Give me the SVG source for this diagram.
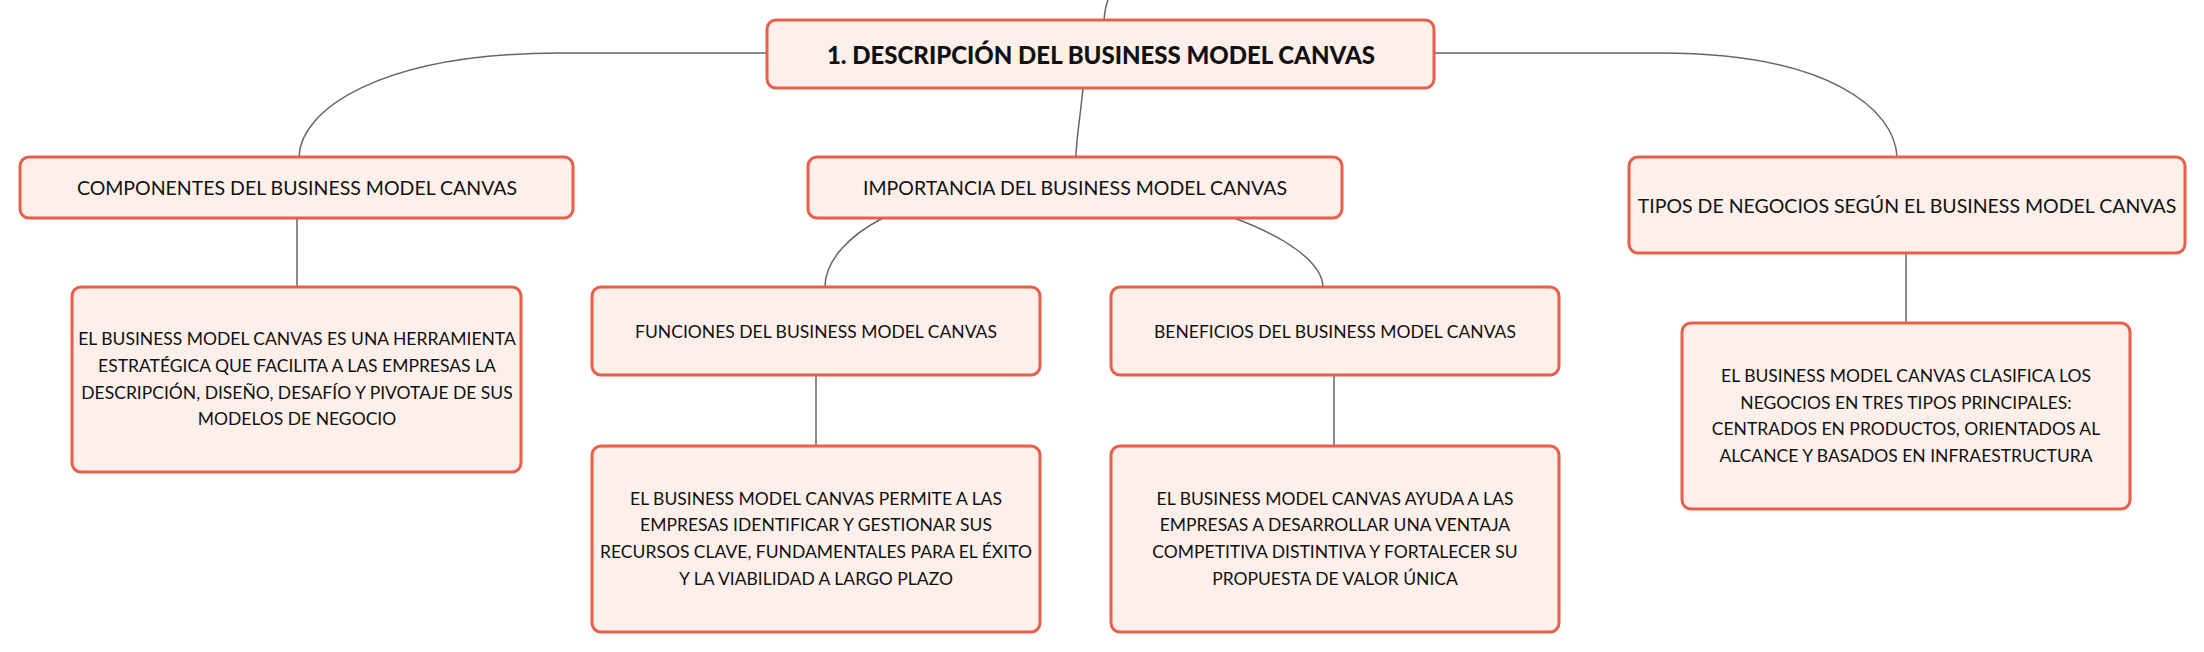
<svg xmlns="http://www.w3.org/2000/svg" width="2204" height="652" viewBox="0 0 2204 652">
<style>
.box{fill:#fdefea;stroke:#e8604b;stroke-width:3}
.t{font-family:Lato,"Noto Sans",sans-serif;fill:#111;text-anchor:middle;dominant-baseline:central}
.t0{font-size:24px;font-weight:900}
.t1{font-size:19.5px}
.t2{font-size:17.5px}
.c{fill:none;stroke:#666;stroke-width:1.5}
</style>
<rect width="2204" height="652" fill="#ffffff"/>
<g id="connectors">
<path class="c" d="M1104,20 Q1105,8 1108,0"/>
<path class="c" d="M1083,88 C1080,120 1076,140 1076,157"/>
<path class="c" d="M767,53 L560,53 C380,53 300,110 299,157"/>
<path class="c" d="M1434,53 L1660,53 C1830,53 1895,110 1897,157"/>
<path class="c" d="M297,218 V287"/>
<path class="c" d="M883,218 C850,235 825,260 825,287"/>
<path class="c" d="M1234,218 C1280,235 1322,260 1323,287"/>
<path class="c" d="M816,375 V446"/>
<path class="c" d="M1334,375 V446"/>
<path class="c" d="M1906,253 V323"/>
</g>
<g id="root">
<rect class="box" x="767" y="20" width="667" height="68" rx="9"/>
<text class="t t0" x="1101" y="54">1. DESCRIPCIÓN DEL BUSINESS MODEL CANVAS</text>
</g>
<g id="componentes">
<rect class="box" x="20" y="157" width="553" height="61" rx="9"/>
<text class="t t1" x="297" y="187.5">COMPONENTES DEL BUSINESS MODEL CANVAS</text>
</g>
<g id="importancia">
<rect class="box" x="808" y="157" width="534" height="61" rx="9"/>
<text class="t t1" x="1075" y="187.5">IMPORTANCIA DEL BUSINESS MODEL CANVAS</text>
</g>
<g id="tipos">
<rect class="box" x="1629" y="157" width="556" height="96" rx="9"/>
<text class="t t1" x="1907" y="205">TIPOS DE NEGOCIOS SEGÚN EL BUSINESS MODEL CANVAS</text>
</g>
<g id="componentes-desc">
<rect class="box" x="72" y="287" width="449" height="185" rx="9"/>
<text class="t t2" x="297"><tspan x="297" y="338">EL BUSINESS MODEL CANVAS ES UNA HERRAMIENTA</tspan><tspan x="297" y="365">ESTRATÉGICA QUE FACILITA A LAS EMPRESAS LA</tspan><tspan x="297" y="392">DESCRIPCIÓN, DISEÑO, DESAFÍO Y PIVOTAJE DE SUS</tspan><tspan x="297" y="418">MODELOS DE NEGOCIO</tspan></text>
</g>
<g id="funciones">
<rect class="box" x="592" y="287" width="448" height="88" rx="9"/>
<text class="t t2" x="816" y="331.5">FUNCIONES DEL BUSINESS MODEL CANVAS</text>
</g>
<g id="beneficios">
<rect class="box" x="1111" y="287" width="448" height="88" rx="9"/>
<text class="t t2" x="1335" y="331.5">BENEFICIOS DEL BUSINESS MODEL CANVAS</text>
</g>
<g id="funciones-desc">
<rect class="box" x="592" y="446" width="448" height="186" rx="9"/>
<text class="t t2" x="816"><tspan x="816" y="498">EL BUSINESS MODEL CANVAS PERMITE A LAS</tspan><tspan x="816" y="524">EMPRESAS IDENTIFICAR Y GESTIONAR SUS</tspan><tspan x="816" y="551">RECURSOS CLAVE, FUNDAMENTALES PARA EL ÉXITO</tspan><tspan x="816" y="578">Y LA VIABILIDAD A LARGO PLAZO</tspan></text>
</g>
<g id="beneficios-desc">
<rect class="box" x="1111" y="446" width="448" height="186" rx="9"/>
<text class="t t2" x="1335"><tspan x="1335" y="498">EL BUSINESS MODEL CANVAS AYUDA A LAS</tspan><tspan x="1335" y="524">EMPRESAS A DESARROLLAR UNA VENTAJA</tspan><tspan x="1335" y="551">COMPETITIVA DISTINTIVA Y FORTALECER SU</tspan><tspan x="1335" y="578">PROPUESTA DE VALOR ÚNICA</tspan></text>
</g>
<g id="tipos-desc">
<rect class="box" x="1682" y="323" width="448" height="186" rx="9"/>
<text class="t t2" x="1906"><tspan x="1906" y="375">EL BUSINESS MODEL CANVAS CLASIFICA LOS</tspan><tspan x="1906" y="402">NEGOCIOS EN TRES TIPOS PRINCIPALES:</tspan><tspan x="1906" y="428">CENTRADOS EN PRODUCTOS, ORIENTADOS AL</tspan><tspan x="1906" y="455">ALCANCE Y BASADOS EN INFRAESTRUCTURA</tspan></text>
</g>
</svg>
